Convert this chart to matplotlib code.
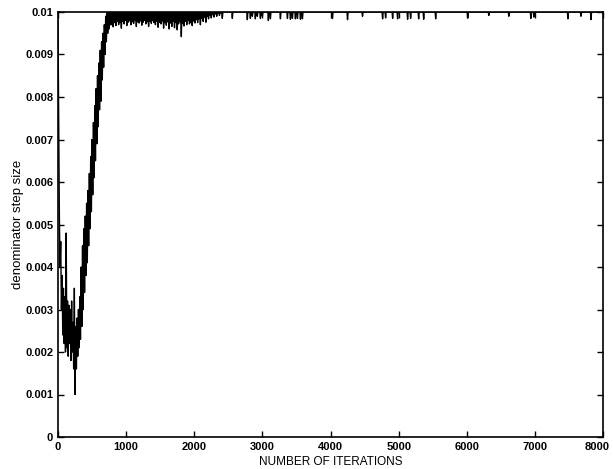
import numpy as np
import matplotlib
matplotlib.use("Agg")
import matplotlib.pyplot as plt
import matplotlib.transforms as mtransforms

plt.rcParams['font.family'] = ['Liberation Sans', 'DejaVu Sans']

# Early phase: iterations 0..790 every 10 iterations
early_iters = list(range(0, 800, 10))
early_vals = [
    0.0098, 0.0075, 0.0052, 0.0040, 0.0046, 0.0030, 0.0038, 0.0024, 0.0035, 0.0022,
    0.0033, 0.0020, 0.0048, 0.0021, 0.0032, 0.0019, 0.0031, 0.0022, 0.0030, 0.0018,
    0.0032, 0.0020, 0.0027, 0.0016, 0.0035, 0.0010, 0.0026, 0.0016, 0.0028, 0.0019,
    0.0030, 0.0021, 0.0033, 0.0023, 0.0040, 0.0026, 0.0045, 0.0030, 0.0049, 0.0034,
    0.0052, 0.0038, 0.0055, 0.0041, 0.0058, 0.0045, 0.0062, 0.0049, 0.0066, 0.0053,
    0.0070, 0.0057, 0.0074, 0.0061, 0.0078, 0.0065, 0.0082, 0.0069, 0.0085, 0.0073,
    0.0088, 0.0077, 0.0091, 0.0079, 0.0093, 0.0084, 0.0095, 0.0087, 0.0097, 0.0090,
    0.0099, 0.0093, 0.0100, 0.0095, 0.0100, 0.0096, 0.0100, 0.0097, 0.0100, 0.0097,
]

# Dense noisy plateau: iterations 800..2400 every 10 iterations
plateau_iters = list(range(800, 2410, 10))
plateau_vals = [
    0.0100, 0.00965, 0.0100, 0.00975, 0.0100, 0.00968, 0.0100, 0.00978, 0.0100, 0.00970,
    0.0100, 0.00975, 0.0100, 0.00962, 0.0100, 0.00978, 0.0100, 0.00972, 0.0100, 0.00980,
    0.0100, 0.00968, 0.0100, 0.00976, 0.0100, 0.00979, 0.0100, 0.00970, 0.0100, 0.00977,
    0.0100, 0.00973, 0.0100, 0.00980, 0.0100, 0.00966, 0.0100, 0.00977, 0.0100, 0.00974,
    0.0100, 0.00979, 0.0100, 0.00969, 0.0100, 0.00976, 0.0100, 0.00980, 0.0100, 0.00972,
    0.0100, 0.00977, 0.0100, 0.00966, 0.0100, 0.00978, 0.0100, 0.00973, 0.0100, 0.00980,
    0.0100, 0.00975, 0.0100, 0.00970, 0.0100, 0.00978, 0.0100, 0.00964, 0.0100, 0.00976,
    0.0100, 0.00972, 0.0100, 0.00979, 0.0100, 0.00962, 0.0100, 0.00975, 0.0100, 0.00969,
    0.0100, 0.00977, 0.0100, 0.00960, 0.0100, 0.00974, 0.0100, 0.00966, 0.0100, 0.00978,
    0.0100, 0.00963, 0.0100, 0.00975, 0.0100, 0.00958, 0.0100, 0.00972, 0.0100, 0.00977,
    0.0100, 0.00942, 0.0100, 0.00974, 0.0100, 0.00967, 0.0100, 0.00978, 0.0100, 0.00970,
    0.0100, 0.00980, 0.0100, 0.00972, 0.0100, 0.00976, 0.0100, 0.00968, 0.0100, 0.00979,
    0.0100, 0.00974, 0.0100, 0.00982, 0.0100, 0.00975, 0.0100, 0.00984, 0.0100, 0.00970,
    0.0100, 0.00985, 0.0100, 0.00978, 0.0100, 0.00988, 0.0100, 0.00976, 0.0100, 0.00990,
    0.0100, 0.00984, 0.0100, 0.00992, 0.0100, 0.00986, 0.0100, 0.00994, 0.0100, 0.00988,
    0.0100, 0.00996, 0.0100, 0.00990, 0.0100, 0.00998, 0.0100, 0.00992, 0.0100, 0.00998,
    0.0100,
]

# Sparse spikes in the converged phase
spike_iters = [2412, 2559, 2779, 2824, 2853, 2897, 2926, 2971, 3000, 3088, 3118,
               3265, 3368, 3412, 3441, 3485, 3515, 3559, 3588, 4029, 4250, 4470,
               4765, 4809, 4912, 4985, 5132, 5176, 5294, 5368, 5544, 6015, 6324,
               6618, 6941, 6985, 7485, 7676, 7824]
spike_vals = [0.00985, 0.00985, 0.00982, 0.00985, 0.00990, 0.00984, 0.00990, 0.00985,
              0.00990, 0.00980, 0.00984, 0.00984, 0.00985, 0.00983, 0.00985, 0.00984,
              0.00985, 0.00983, 0.00984, 0.00985, 0.00982, 0.00990, 0.00984, 0.00986,
              0.00985, 0.00984, 0.00983, 0.00985, 0.00984, 0.00983, 0.00984, 0.00986,
              0.00992, 0.00990, 0.00985, 0.00988, 0.00984, 0.00990, 0.00982]

# assemble line: baseline 0.01 around each spike
xs = list(early_iters) + list(plateau_iters)
ys = list(early_vals) + list(plateau_vals)
for si, sv in zip(spike_iters, spike_vals):
    xs += [si - 8, si, si + 8]
    ys += [0.01, sv, 0.01]
xs.append(8000)
ys.append(0.01)

fig = plt.figure(figsize=(6.13, 4.69), dpi=100)
ax = fig.add_axes([58/613, 1 - 437/469, 545/613, 425/469])
ax.plot(xs, ys, color='black', lw=1.0)

ax.set_xlim(0, 8000)
ax.set_ylim(0, 0.01)
ax.set_xticks(np.arange(0, 8001, 1000))
ax.set_yticks(np.arange(0, 0.01001, 0.001))
ax.set_yticklabels(['0', '0.001', '0.002', '0.003', '0.004', '0.005', '0.006',
                    '0.007', '0.008', '0.009', '0.01'])
ax.tick_params(direction='in', top=True, right=True, length=4, width=1,
               labelsize=8)
for lab in ax.get_xticklabels() + ax.get_yticklabels():
    lab.set_fontweight('bold')
for s in ax.spines.values():
    s.set_linewidth(1.2)

# keep the last x tick label inside the canvas, as in the reference
last = ax.get_xticklabels()[-1]
last.set_transform(last.get_transform() +
                   mtransforms.ScaledTranslation(-6/100, 0, fig.dpi_scale_trans))

ax.set_xlabel('NUMBER OF ITERATIONS', fontsize=8.5, labelpad=3)
ax.set_ylabel('denominator step size', fontsize=9.5, labelpad=1)

fig.savefig('out.png', dpi=100)
